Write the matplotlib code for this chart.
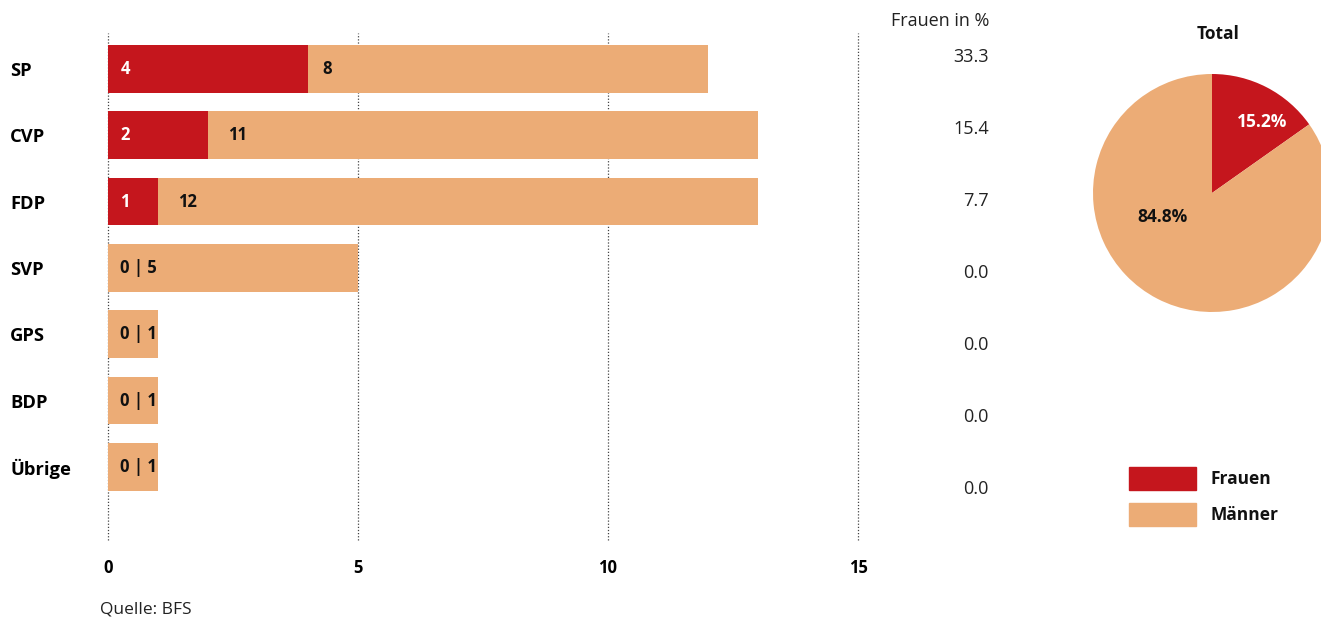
import matplotlib.pyplot as plt
from matplotlib.patches import Rectangle

# Daten
parteien = ['SP', 'CVP', 'FDP', 'SVP', 'GPS', 'BDP', 'Übrige']
frauen = [4, 2, 1, 0, 0, 0, 0]
maenner = [8, 11, 12, 5, 1, 1, 1]
frauen_pct = [33.3, 15.4, 7.7, 0.0, 0.0, 0.0, 0.0]
x_ticks = [0, 5, 10, 15]
legende = ['Frauen', 'Männer']

ROT = '#C5161D'
ORANGE = '#ECAC76'

plt.rcParams['font.family'] = ['Open Sans', 'DejaVu Sans']

W, H = 1321, 620
fig = plt.figure(figsize=(W / 100, H / 100), dpi=100)

def fx(px):
    return px / W

def fy(py):
    return 1 - py / H

# --- Balkendiagramm ---
row_top, row_step = 69, 66.3
ax_top, ax_bot = 33, 540
ax = fig.add_axes([fx(108), fy(ax_bot), fx(858) - fx(108), (ax_bot - ax_top) / H])
ypos = list(range(len(parteien)))
ax.barh(ypos, frauen, height=0.72, color=ROT, zorder=3)
ax.barh(ypos, maenner, left=frauen, height=0.72, color=ORANGE, zorder=3)
ax.set_xlim(0, 15)
ax.set_ylim((ax_bot - row_top) / row_step, (ax_top - row_top) / row_step)

for x in x_ticks:
    ax.axvline(x, color='#444444', linestyle=(0, (1, 1.5)), linewidth=0.9, zorder=1,
               clip_on=False)

for i, (f, m) in enumerate(zip(frauen, maenner)):
    if f > 0:
        ax.text(0.25, i, str(f), color='white', fontsize=12, fontweight='bold',
                ha='left', va='center', zorder=4)
        ax.text(f + 0.28 + (0.12 if m >= 10 else 0), i, str(m), color='#111111',
                fontsize=12, fontweight='bold', ha='left', va='center', zorder=4)
    else:
        ax.text(0.25, i, f'{f} | {m}', color='#111111', fontsize=12,
                fontweight='bold', ha='left', va='center', zorder=4)

for s in ax.spines.values():
    s.set_visible(False)
ax.set_xticks(x_ticks)
ax.set_xticklabels([str(t) for t in x_ticks], fontweight='bold', fontsize=12)
ax.tick_params(axis='x', length=0, pad=14)
ax.set_yticks(ypos)
ax.set_yticklabels(parteien, fontweight='bold', fontsize=13.2, ha='left')
ax.tick_params(axis='y', length=0, pad=98 * 0.72)

# --- Frauen in % Spalte ---
fig.text(fx(989), fy(21), 'Frauen in %', ha='right', va='center', fontsize=13, color='#222222')
for i, p in enumerate(frauen_pct):
    fig.text(fx(989), fy(57 + 72 * i), f'{p:.1f}', ha='right', va='center',
             fontsize=13, color='#222222')

# --- Torte ---
cx, cy, r = 1212, 193, 119
pax = fig.add_axes([fx(cx - r), fy(cy + r), 2 * r / W, 2 * r / H])
total_f, total_m = sum(frauen), sum(maenner)
pax.pie([total_f, total_m], colors=[ROT, ORANGE], startangle=90, counterclock=False,
        radius=1)
pax.set_xlim(-1, 1)
pax.set_ylim(-1, 1)
share_f = total_f / (total_f + total_m) * 100
pax.text(0.42, 0.60, f'{share_f:.1f}%', color='white', fontweight='bold',
         fontsize=12.5, ha='center', va='center')
pax.text(-0.42, -0.20, f'{100 - share_f:.1f}%', color='#111111', fontweight='bold',
         fontsize=12.5, ha='center', va='center')
fig.text(fx(1218), fy(34), 'Total', ha='center', va='center', fontsize=12.5,
         fontweight='bold', color='#111111')

# --- Legende ---
for k, (name, col) in enumerate(zip(legende, [ROT, ORANGE])):
    top = 467 + 36 * k
    fig.patches.append(Rectangle((fx(1129), fy(top + 23)), fx(67), 23 / H,
                                 transform=fig.transFigure, color=col))
    fig.text(fx(1210), fy(top + 11.5), name, ha='left', va='center', fontsize=12.5,
             fontweight='bold', color='#111111')

# --- Quelle ---
fig.text(fx(100), fy(610), 'Quelle: BFS', ha='left', va='center', fontsize=12.5,
         color='#222222', family=['Liberation Sans Narrow', 'Open Sans', 'DejaVu Sans'])

fig.savefig('out.png', dpi=100)
